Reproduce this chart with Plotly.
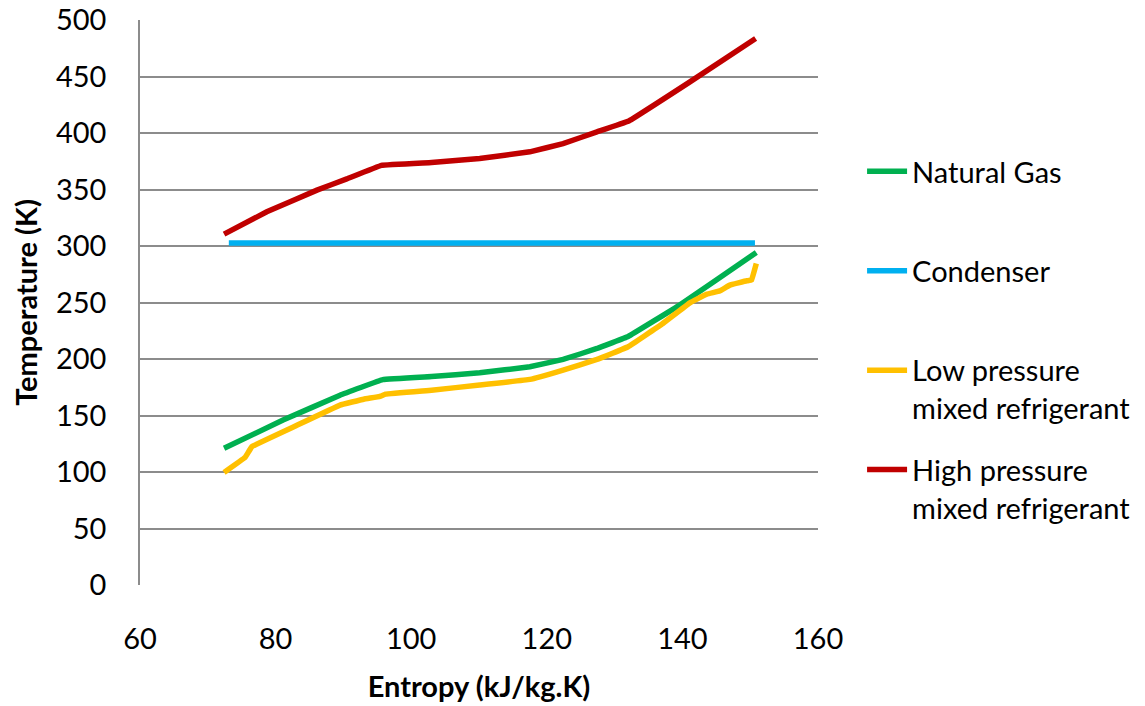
import plotly.graph_objects as go

# Natural Gas
ng_s = [72.4, 81.1, 89.5, 95.8, 103.0, 110.1, 117.5, 122.4, 127.4, 132.0, 139.6, 145.0, 150.9]
ng_t = [121.0, 146.0, 168.0, 181.8, 184.5, 187.9, 193.2, 199.7, 209.4, 220.0, 247.8, 270.0, 294.4]

# Condenser
cd_s = [73.1, 150.7]
cd_t = [302.7, 302.7]

# Low pressure mixed refrigerant
lp_s = [72.4, 75.5, 76.5, 83.0, 89.5, 93.0, 95.4, 96.2, 103.0, 110.1, 117.5, 122.4, 127.4, 132.0,
        137.0, 141.1, 143.6, 145.5, 147.0, 149.5, 150.2, 150.9]
lp_t = [99.7, 113.0, 122.5, 141.0, 159.3, 164.5, 167.0, 169.0, 172.5, 177.0, 182.0, 190.3, 199.7, 210.9,
        231.0, 249.8, 257.5, 260.4, 265.5, 269.3, 270.0, 284.7]

# High pressure mixed refrigerant
hp_s = [72.4, 78.7, 86.1, 90.5, 95.6, 103.0, 110.1, 117.5, 122.4, 127.4, 132.0, 141.0, 150.8]
hp_t = [310.6, 330.4, 349.6, 359.5, 371.5, 374.0, 377.6, 383.5, 390.8, 401.2, 410.5, 445.0, 483.8]

x_ticks = [60, 80, 100, 120, 140, 160]
y_ticks = [0, 50, 100, 150, 200, 250, 300, 350, 400, 450, 500]

FONT = "Lato"
fig = go.Figure()

series = [
    ("Natural Gas<br> ", ng_s, ng_t, "#00B050"),
    ("Condenser<br> ", cd_s, cd_t, "#00B0F0"),
    ("Low pressure<br>mixed refrigerant", lp_s, lp_t, "#FFC000"),
    ("High pressure<br>mixed refrigerant", hp_s, hp_t, "#C00000"),
]
for i, (name, xs, ys, col) in enumerate(series):
    fig.add_trace(go.Scatter(
        x=xs, y=ys, mode="lines", name=name, legendgroup=f"g{i}",
        line=dict(color=col, width=5.5, shape="spline", smoothing=0.15),
    ))

fig.update_layout(
    width=1145, height=706,
    margin=dict(l=140, r=327, t=20, b=121, autoexpand=False),
    paper_bgcolor="white", plot_bgcolor="white",
    font=dict(family=FONT, size=29, color="black"),
    showlegend=True,
    legend=dict(
        x=1.065, y=0.777, xanchor="left", yanchor="top",
        font=dict(family=FONT, size=29, color="black"),
        tracegroupgap=21, valign="top", itemwidth=40,
        bgcolor="rgba(0,0,0,0)",
    ),
    xaxis=dict(
        range=[60, 160], tickvals=x_ticks, ticktext=[str(v) for v in x_ticks],
        showgrid=False, zeroline=False, showline=False, automargin=False,
        ticks="", ticklabelstandoff=34, ticklabeloverflow="allow",
        title=dict(text="<b>Entropy (kJ/kg.K)</b>", standoff=22,
                   font=dict(family=FONT, size=29)),
    ),
    yaxis=dict(
        range=[0, 500.2], tickvals=y_ticks, ticktext=[str(v) for v in y_ticks],
        showgrid=True, gridcolor="#8C8C8C", gridwidth=1.5, automargin=False,
        zeroline=False, showline=True, linecolor="#8C8C8C", linewidth=1.5,
        ticks="", ticklabelstandoff=26, ticklabeloverflow="allow",
        title=dict(text="<b>Temperature (K)</b>", standoff=10,
                   font=dict(family=FONT, size=29)),
    ),
)

fig.write_html("out.html", config={"displayModeBar": False},
               post_script="document.body.style.margin='0';")
